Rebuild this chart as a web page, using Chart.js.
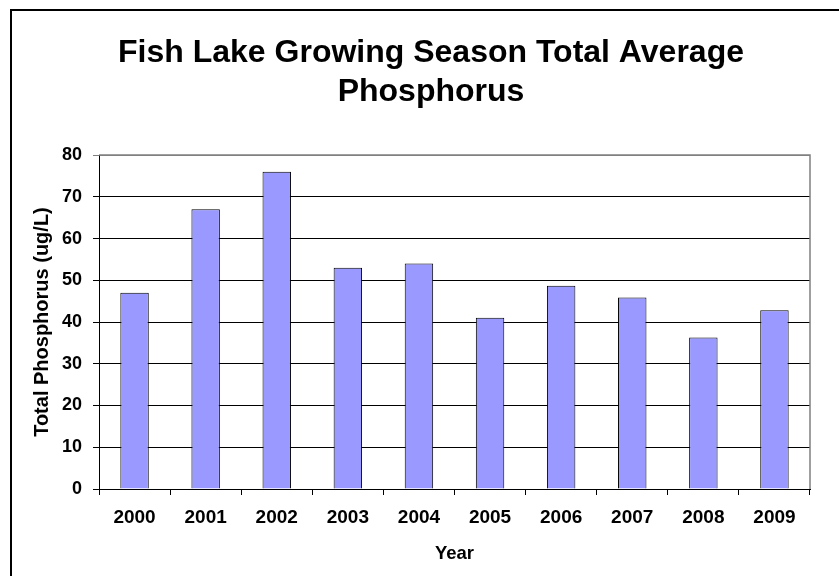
<!DOCTYPE html>
<html>
<head>
<meta charset="utf-8">
<script src="https://cdn.jsdelivr.net/npm/chart.js@4"></script>
<style>
html,body{margin:0;padding:0;background:#fff;}
#wrap{width:839px;height:576px;}
</style>
</head>
<body>
<div id="wrap"><canvas id="c" width="839" height="576"></canvas></div>
<script>
const years = ['2000','2001','2002','2003','2004','2005','2006','2007','2008','2009'];
const phosphorus = [47, 67, 76, 53, 54, 41, 48.7, 45.9, 36.3, 42.8];
const titleLines = ['Fish Lake Growing Season Total Average', 'Phosphorus'];
const yAxisTitle = 'Total Phosphorus (ug/L)';
const xAxisTitle = 'Year';
const yMin = 0, yMax = 80, yStep = 10;

const FONT = "'Liberation Sans', Arial, sans-serif";

const frame = {
  id: 'frame',
  beforeDraw(chart) {
    const ctx = chart.ctx;
    ctx.save();
    ctx.fillStyle = '#fff';
    ctx.fillRect(0, 0, chart.width, chart.height);
    ctx.strokeStyle = '#000';
    ctx.lineWidth = 2;
    ctx.strokeRect(11, 10, 1000, 1000);
    ctx.restore();
  },
  beforeDatasetsDraw(chart) {
    const {ctx, chartArea: a} = chart;
    ctx.save();
    ctx.strokeStyle = '#808080';
    ctx.lineWidth = 1.5;
    ctx.beginPath();
    ctx.moveTo(a.left, a.top);
    ctx.lineTo(a.right, a.top);
    ctx.lineTo(a.right, a.bottom);
    ctx.stroke();
    ctx.restore();
  }
};

new Chart(document.getElementById('c'), {
  type: 'bar',
  data: {
    labels: years,
    datasets: [{
      data: phosphorus,
      backgroundColor: '#9999FF',
      borderColor: '#000',
      borderWidth: 1,
      barPercentage: 0.4,
      categoryPercentage: 1
    }]
  },
  options: {
    responsive: false,
    animation: false,
    devicePixelRatio: 1,
    layout: { padding: { left: 52, right: 29, top: 0, bottom: 0 } },
    plugins: {
      legend: { display: false },
      tooltip: { enabled: false },
      title: {
        display: true,
        text: titleLines,
        color: '#000',
        font: { family: FONT, size: 32, weight: 'bold', lineHeight: 1.22 },
        padding: { top: 33.5, bottom: 43.5 }
      }
    },
    scales: {
      x: {
        grid: { display: true, drawOnChartArea: false, drawTicks: true, tickLength: 6, color: '#000', offset: true },
        border: { display: true, color: '#000', width: 1 },
        ticks: { color: '#000', font: { family: FONT, size: 19, weight: 'bold' }, padding: 11, maxRotation: 0, autoSkip: false },
        title: { display: true, text: xAxisTitle, color: '#000', font: { family: FONT, size: 18.5, weight: 'bold', lineHeight: 1.2 }, padding: { top: 8, bottom: 11 } },
        afterFit(s) { s.height = 87; }
      },
      y: {
        min: yMin, max: yMax,
        grid: { color: c => (c.tick && c.tick.value === yMax) ? '#808080' : '#000', tickLength: 6, drawTicks: true },
        border: { display: true, color: '#000', width: 1 },
        ticks: { stepSize: yStep, color: '#000', font: { family: FONT, size: 18, weight: 'bold' }, padding: 11 },
        title: { display: true, text: yAxisTitle, color: '#000', font: { family: FONT, size: 20, weight: 'bold', lineHeight: 1.2 }, padding: { top: -22, bottom: 0 } },
        afterFit(s) { s.width = 47; }
      }
    }
  },
  plugins: [frame]
});
</script>
</body>
</html>
